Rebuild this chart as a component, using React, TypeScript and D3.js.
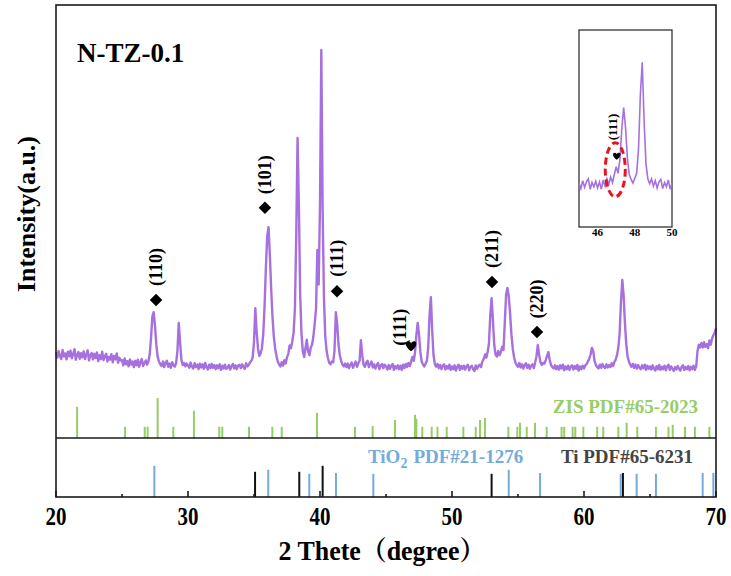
import React from 'react';
import * as d3 from 'd3';

// ---------- DATA ----------
const scanStart = 20;
const scanStep = 0.1;
// XRD intensity (a.u.) sampled every 0.1 deg from 20.0 to 70.0
const scanIntensity = [
  136,121,140,125,117,143,124,133,116,138,
  125,141,119,131,145,115,129,137,118,134,
  122,139,117,130,142,113,127,134,116,132,
  120,136,111,128,117,138,114,125,132,110,
  123,115,131,108,126,116,133,106,121,113,
  114,99,119,102,111,96,116,101,110,94,
  112,99,115,95,108,117,97,105,113,101,
  110,130,178,238,251,212,158,124,110,102,
  97,110,94,106,112,95,104,92,108,99,
  95,106,140,220,165,115,100,106,96,104,
  99,92,107,95,90,105,94,101,88,104,
  93,102,89,106,94,87,101,91,103,92,
  100,88,99,91,102,86,98,90,101,89,
  92,100,87,97,103,90,99,88,98,101,
  91,102,94,89,105,96,100,108,112,122,
  165,262,195,148,126,133,148,188,268,378,
  468,494,415,318,238,182,148,126,110,102,
  96,108,98,114,104,122,132,156,148,168,
  192,262,470,749,555,298,188,138,123,148,
  172,138,128,150,158,182,218,262,429,330,
  560,1000,540,290,182,140,120,106,102,110,
  108,142,251,218,160,128,112,101,96,104,
  94,104,91,100,107,92,101,110,95,105,
  112,171,128,101,95,106,112,94,103,110,
  93,102,90,99,106,88,98,103,91,101,
  96,87,100,89,98,103,86,97,90,99,
  88,98,86,101,91,103,94,106,97,110,
  123,112,135,185,220,188,138,110,102,96,
  104,112,152,242,294,198,128,103,95,103,
  91,100,88,98,102,87,97,90,101,86,
  96,88,99,84,95,101,86,97,89,98,
  87,96,101,85,94,98,88,83,99,89,
  97,101,94,110,117,130,121,137,162,242,
  291,228,158,130,124,140,128,137,152,143,
  222,302,320,296,248,188,148,123,108,100,
  95,106,93,102,90,100,105,92,101,89,
  98,102,91,107,125,157,130,108,100,106,
  104,114,126,137,115,100,94,90,99,88,
  97,87,99,90,101,85,96,88,98,86,
  95,99,87,97,89,100,84,96,88,98,
  90,99,103,110,118,130,149,140,112,100,
  94,90,101,92,103,95,91,102,93,100,
  94,105,97,109,115,128,150,190,280,343,
  300,220,160,125,110,101,95,103,92,101,
  90,100,93,88,99,91,101,86,98,89,
  96,87,99,90,84,97,88,100,86,95,
  88,98,85,95,101,86,96,89,83,94,
  87,97,89,84,95,99,86,94,88,97,
  85,95,88,98,86,96,140,158,150,163,
  150,165,152,160,148,170,158,175,185,192,
  205,
];

const zisAngles = [21.6,25.23,26.72,26.94,27.7,28.89,30.45,32.37,32.6,34.62,
  36.39,37.1,39.77,42.65,43.99,45.68,47.2,47.3,47.75,48.46,
  48.9,49.6,50.86,51.8,52.12,52.5,54.27,54.95,55.15,55.66,
  56.29,57.17,58.3,58.5,59.14,59.34,59.95,61.0,61.46,62.6,
  63.23,64.04,65.45,66.4,66.72,67.65,68.4,69.5];
const zisHeights = [78,28,28,28,100,28,68,28,28,28,
  28,28,63,28,30,45,58,48,28,28,
  28,28,28,28,45,50,28,28,38,28,
  38,28,28,28,28,28,28,28,28,28,
  38,28,28,28,33,28,28,28];

const tio2Angles = [27.45,36.08,39.19,41.21,44.04,54.3,56.67,62.78,63.99,65.45,68.99,69.8];
const tio2Heights = [78,68,58,60,58,68,60,58,58,58,60,60];

const tiAngles = [35.08,38.43,40.2,53.0,62.95];
const tiHeights = [63,63,78,58,60];

const annotAngles = [27.58,35.83,41.29,46.9,53.03,56.44];
const annotLevels = [286,549,311,151,337,194];
const annotLabels = ['(110)','(101)','(111)','(111)','(211)','(220)'];
const annotMarkers = ['diamond','diamond','diamond','heart','diamond','diamond'];

const xTicks = [20,30,40,50,60,70];
const xMinorTicks = [25,35,45,55,65];
const insetTicks = [46,48,50];
const insetRange = [45,50];
const insetMarkAngle = 47.03;
const insetMarkLevel = 139;
const insetCircleAngle = 46.95;
const insetCircleLevel = 118;

const sampleName = 'N-TZ-0.1';
const yTitle = 'Intensity(a.u.)';
const xTitle = '2 Thete（degree）';

// ---------- STYLE ----------
const W = 731, H = 576;
const L = 56, R = 716, T = 5, B = 497, DIV = 438;
const PURPLE = '#a770df';
const GREEN = '#97cd66';
const BLUE = '#74abdb';
const FONT = "'Liberation Serif','Times New Roman','Noto Serif CJK SC','Noto Sans CJK SC',serif";

const heartPath = (s: number) =>
  `M0,${4*s} C${-7*s},${-1*s} ${-6*s},${-6*s} ${-3*s},${-6*s} C${-1.5*s},${-6*s} 0,${-5*s} 0,${-3.5*s} C0,${-5*s} ${1.5*s},${-6*s} ${3*s},${-6*s} C${6*s},${-6*s} ${7*s},${-1*s} 0,${4*s} Z`;

export default function App() {
  const x = d3.scaleLinear().domain([20, 70]).range([L, R]);
  const y = d3.scaleLinear().domain([0, 1000]).range([400, 50]);
  const stick = d3.scaleLinear().domain([0, 100]).range([0, 40]);

  const pts: [number, number][] = scanIntensity.map((v, i) => [scanStart + i * scanStep, v]);
  const line = d3.line<[number, number]>().x(d => x(d[0])).y(d => y(d[1]));

  const ix = d3.scaleLinear().domain(insetRange).range([579, 672]);
  const iy = d3.scaleLinear().domain([24, 347]).range([227, 30]);
  const insetPts = pts.filter(p => p[0] >= insetRange[0] - 1e-6 && p[0] <= insetRange[1] + 1e-6);
  const iline = d3.line<[number, number]>().x(d => ix(d[0])).y(d => iy(d[1]));

  const diamond = d3.symbol().type(d3.symbolDiamond2).size(100)();

  return (
    <svg width={W} height={H} style={{ position: 'absolute', left: 0, top: 0, background: '#fff' }}
      fontFamily={FONT}>
      <rect x={0} y={0} width={W} height={H} fill="#fff" />
      {/* reference sticks */}
      {zisAngles.map((a, i) => (
        <line key={'z' + i} x1={x(a)} x2={x(a)} y1={DIV} y2={DIV - stick(zisHeights[i])}
          stroke={GREEN} strokeWidth={2} />
      ))}
      {tio2Angles.map((a, i) => (
        <line key={'t' + i} x1={x(a)} x2={x(a)} y1={B} y2={B - stick(tio2Heights[i])}
          stroke={BLUE} strokeWidth={2} />
      ))}
      {tiAngles.map((a, i) => (
        <line key={'ti' + i} x1={x(a)} x2={x(a)} y1={B} y2={B - stick(tiHeights[i])}
          stroke="#111" strokeWidth={2} />
      ))}
      <text x={698} y={413} fill={GREEN} fontWeight="bold" fontSize={19} textAnchor="end">ZIS PDF#65-2023</text>
      <text x={368} y={463} fill={BLUE} fontWeight="bold" fontSize={19}>
        TiO<tspan fontSize={14} dy={5}>2</tspan><tspan dy={-5} dx={6}>PDF#21-1276</tspan>
      </text>
      <text x={693} y={463} fill="#444" fontWeight="bold" fontSize={19} textAnchor="end">Ti PDF#65-6231</text>

      {/* pattern */}
      <path d={line(pts) || ''} fill="none" stroke={PURPLE} strokeWidth={2.4} strokeLinejoin="round" />

      {/* annotations */}
      {annotAngles.map((a, i) => {
        const mx = x(a), my = y(annotLevels[i]);
        const heart = annotMarkers[i] === 'heart';
        const lx = heart ? mx - 11 : mx;
        const ly = heart ? my - 20 : my - 33;
        return (
          <g key={'a' + i}>
            {heart
              ? <path d={heartPath(1)} transform={`translate(${mx},${my})`} fill="#000" />
              : <path d={diamond || ''} transform={`translate(${mx},${my})`} fill="#000" />}
            <text transform={`translate(${lx},${ly}) rotate(-90)`} textAnchor="middle"
              dominantBaseline="central" fontWeight="bold" fontSize={18}>{annotLabels[i]}</text>
          </g>
        );
      })}

      <text x={77} y={62} fontWeight="bold" fontSize={27}>{sampleName}</text>

      {/* inset */}
      <rect x={579} y={30} width={93} height={197} fill="#fff" stroke="#222" strokeWidth={1.2} />
      <path d={iline(insetPts) || ''} fill="none" stroke={PURPLE} strokeWidth={1.6} />
      <ellipse cx={ix(insetCircleAngle)} cy={iy(insetCircleLevel)} rx={10} ry={27} fill="none"
        stroke="#e8141c" strokeWidth={3} strokeDasharray="7,4" />
      <path d={heartPath(0.7)} transform={`translate(${ix(insetMarkAngle)},${iy(insetMarkLevel)})`} fill="#000" />
      <text transform={`translate(${ix(insetMarkAngle) - 4},127) rotate(-90)`} textAnchor="middle"
        dominantBaseline="central" fontWeight="bold" fontSize={13}>(111)</text>
      {insetTicks.map(t => (
        <text key={'it' + t} x={ix(t)} y={236} textAnchor="middle" fontWeight="bold" fontSize={11}>{t}</text>
      ))}

      {/* frame */}
      <g stroke="#1a1a1a" strokeWidth={1.6} fill="none">
        <rect x={L} y={T} width={R - L} height={B - T} />
        <line x1={L} x2={R} y1={DIV} y2={DIV} />
      </g>
      {xTicks.map(t => (
        <line key={'xt' + t} x1={x(t)} x2={x(t)} y1={B} y2={B - 6} stroke="#1a1a1a" strokeWidth={1.6} />
      ))}
      {xMinorTicks.map(t => (
        <line key={'xm' + t} x1={x(t)} x2={x(t)} y1={B} y2={B - 3} stroke="#1a1a1a" strokeWidth={1.6} />
      ))}
      {xTicks.map(t => (
        <text key={'xl' + t} x={x(t)} y={525} textAnchor="middle" fontWeight="bold" fontSize={25}
          textLength={21} lengthAdjust="spacingAndGlyphs">{t}</text>
      ))}
      <text x={382} y={560} textAnchor="middle" fontWeight="bold" fontSize={27}
        textLength={207} lengthAdjust="spacingAndGlyphs">{xTitle}</text>
      <text transform={`translate(35,214) rotate(-90)`} textAnchor="middle" fontWeight="bold" fontSize={26}>{yTitle}</text>
    </svg>
  );
}
